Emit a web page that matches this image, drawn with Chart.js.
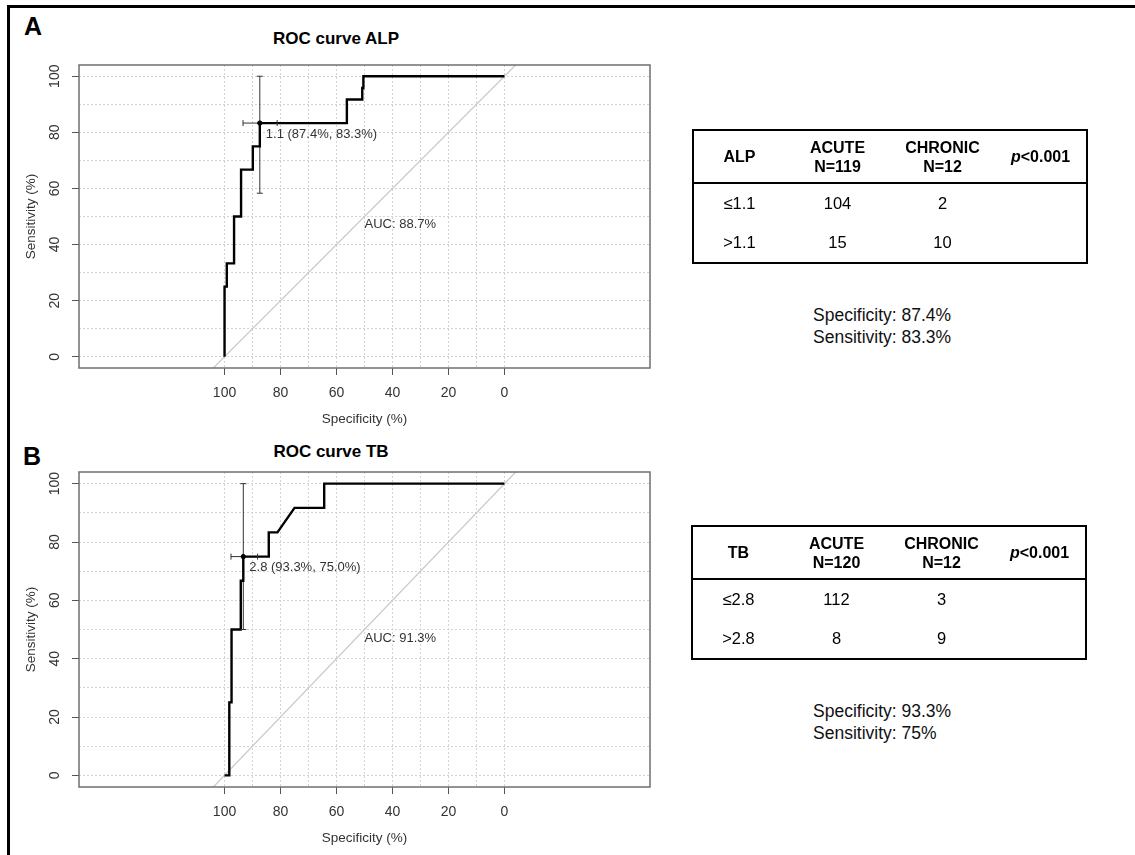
<!DOCTYPE html>
<html>
<head>
<meta charset="utf-8">
<title>ROC curves ALP / TB</title>
<script src="https://cdn.jsdelivr.net/npm/chart.js@4.4.1/dist/chart.umd.min.js"></script>
<style>
  body { margin: 0; background: #fff; font-family: "Liberation Sans", Arial, sans-serif; }
  #page { position: relative; width: 1135px; height: 855px; overflow: hidden; background: #fff; }
  #frame { position: absolute; left: 7px; top: 5px; width: 1200px; height: 900px;
           border-left: 3px solid #000; border-top: 3px solid #000; }
  canvas { position: absolute; left: 0; }
  .panel { position: absolute; font-weight: bold; font-size: 25px; color: #000; }
  .title { position: absolute; font-weight: bold; font-size: 17px; color: #000;
           transform: translateX(-50%); white-space: nowrap; }
  table.ct { position: absolute; border-collapse: collapse; border: 2px solid #000;
             font-size: 16.5px; color: #000; table-layout: fixed; }
  table.ct th { font-size: 16px; font-weight: bold; height: 51px; line-height: 19px;
                border-bottom: 2px solid #000; text-align: center; padding: 0; }
  table.ct td { text-align: center; height: 39px; padding: 0; }
  .stats { position: absolute; font-size: 17.5px; line-height: 22px; color: #111; }
</style>
</head>
<body>
<div id="page">
  <div id="frame"></div>
  <div class="panel" style="left:24px; top:12px;">A</div>
  <div class="title" style="left:336px; top:29px;">ROC curve ALP</div>
  <canvas id="rocA" width="700" height="440" style="top:0px;"></canvas>
  <div class="panel" style="left:23px; top:442px;">B</div>
  <div class="title" style="left:331px; top:442px;">ROC curve TB</div>
  <canvas id="rocB" width="700" height="435" style="top:420px;"></canvas>
</div>

<script>
// axis tick values (percent)
const specTicks = [100, 80, 60, 40, 20, 0];
const sensTicks = [0, 20, 40, 60, 80, 100];

// ROC curve ALP: specificity / sensitivity pairs along the step curve
const alpSpec = [100, 100, 99.2, 99.2, 96.6, 96.6, 94.1, 94.1, 89.9, 89.9, 87.4, 87.4, 56.3, 56.3, 50.8, 50.8, 50.4, 50.4, 0];
const alpSens = [0, 25, 25, 33.3, 33.3, 50, 50, 66.7, 66.7, 75, 75, 83.3, 83.3, 91.7, 91.7, 95.8, 95.8, 100, 100];
const alpThreshold = 1.1;
const alpBest = [87.4, 83.3];       // [specificity, sensitivity]
const alpCiSpec = [93.4, 81.2];     // horizontal CI bar at best sensitivity
const alpCiSens = [58.3, 100];      // vertical CI bar at best specificity
const alpAuc = 88.7;

// ROC curve TB
const tbSpec = [100, 98.3, 98.3, 97.5, 97.5, 94.2, 94.2, 93.3, 93.3, 84.2, 84.2, 81.1, 75, 64.4, 64.4, 0];
const tbSens = [0, 0, 25, 25, 50, 50, 66.7, 66.7, 75, 75, 83.3, 83.3, 91.7, 91.7, 100, 100];
const tbThreshold = 2.8;
const tbBest = [93.3, 75.0];
const tbCiSpec = [97.7, 88.2];
const tbCiSens = [50, 100];
const tbAuc = 91.3;

// contingency tables
const groups = ['ACUTE', 'CHRONIC'];
const alpN = [119, 12];
const alpRows = ['≤1.1', '>1.1'];
const alpCounts = [[104, 2], [15, 10]];
const tbN = [120, 12];
const tbRows = ['≤2.8', '>2.8'];
const tbCounts = [[112, 3], [8, 9]];
const pText = '<0.001';
const alpStats = ['Specificity: 87.4%', 'Sensitivity: 83.3%'];
const tbStats = ['Specificity: 93.3%', 'Sensitivity: 75%'];

const FONT = '"Liberation Sans", Arial, sans-serif';
const X_MIN = -52, X_MAX = 152, Y_MIN = -4, Y_MAX = 104;
const tenSteps = [100, 90, 80, 70, 60, 50, 40, 30, 20, 10, 0];

const pts = (xs, ys) => xs.map((v, i) => ({ x: v, y: ys[i] }));

const rocDecor = {
  id: 'rocDecor',
  afterDatasetsDraw(chart, args, o) {
    const { ctx, chartArea: a, scales: { x, y } } = chart;
    ctx.save();
    // CI caps
    ctx.strokeStyle = '#333';
    ctx.lineWidth = 1;
    const cap = 3;
    ctx.beginPath();
    o.ciSpec.forEach(s => {
      const px = x.getPixelForValue(s), py = y.getPixelForValue(o.best[1]);
      ctx.moveTo(px, py - cap); ctx.lineTo(px, py + cap);
    });
    o.ciSens.forEach(s => {
      const px = x.getPixelForValue(o.best[0]), py = y.getPixelForValue(s);
      ctx.moveTo(px - cap, py); ctx.lineTo(px + cap, py);
    });
    ctx.stroke();

    // plot box
    ctx.strokeStyle = '#6f6f6f';
    ctx.lineWidth = 1.5;
    ctx.strokeRect(a.left, a.top, a.right - a.left, a.bottom - a.top);

    // rotated y tick labels, as R draws them
    ctx.fillStyle = '#333';
    ctx.font = '14px ' + FONT;
    ctx.textAlign = 'center';
    ctx.textBaseline = 'middle';
    sensTicks.forEach(v => {
      ctx.save();
      ctx.translate(a.left - 24, y.getPixelForValue(v));
      ctx.rotate(-Math.PI / 2);
      ctx.fillText(String(v), 0, 0);
      ctx.restore();
    });

    // threshold label and AUC
    ctx.font = '13px ' + FONT;
    ctx.textAlign = 'left';
    const bx = x.getPixelForValue(o.best[0]), by = y.getPixelForValue(o.best[1]);
    ctx.fillText(o.threshold.toFixed(1) + ' (' + o.best[0].toFixed(1) + '%, ' + o.best[1].toFixed(1) + '%)', bx + 6, by + 11);
    ctx.fillText('AUC: ' + o.auc.toFixed(1) + '%', x.getPixelForValue(50), y.getPixelForValue(47));
    ctx.restore();
  }
};

function makeRoc(id, spec, sens, best, ciSpec, ciSens, threshold, auc, topPad, xAxisH, xTitlePad) {
  new Chart(document.getElementById(id), {
    type: 'scatter',
    data: {
      datasets: [
        { data: pts(spec, sens), showLine: true, borderColor: '#000', borderWidth: 2.4,
          pointRadius: 0, order: 1 },
        { data: [{ x: best[0], y: best[1] }], showLine: false, pointRadius: 2.2,
          backgroundColor: '#000', borderColor: '#000', order: 0 },
        { data: pts([best[0], best[0]], ciSens), showLine: true, borderColor: '#333',
          borderWidth: 1, pointRadius: 0, order: 2 },
        { data: pts(ciSpec, [best[1], best[1]]), showLine: true, borderColor: '#333',
          borderWidth: 1, pointRadius: 0, order: 2 },
        { data: pts([100 - Y_MIN, 100 - Y_MAX], [Y_MIN, Y_MAX]), showLine: true,
          borderColor: '#c9c9c9', borderWidth: 1.2, pointRadius: 0, order: 5 }
      ]
    },
    options: {
      responsive: false,
      animation: false,
      devicePixelRatio: 1,
      layout: { padding: { top: topPad, right: 50, left: 0, bottom: 0 } },
      plugins: {
        legend: { display: false },
        tooltip: { enabled: false },
        rocDecor: { best, ciSpec, ciSens, threshold, auc }
      },
      scales: {
        x: {
          type: 'linear', reverse: true, min: X_MIN, max: X_MAX,
          afterBuildTicks: s => { s.ticks = tenSteps.map(v => ({ value: v })); },
          afterFit: s => { s.height = xAxisH; },
          ticks: {
            autoSkip: false, maxRotation: 0, padding: 10, color: '#333',
            font: { family: FONT, size: 14 },
            callback: v => specTicks.includes(v) ? String(v) : ''
          },
          grid: {
            color: '#d3d3d3', lineWidth: 1, tickLength: 7, tickWidth: 1,
            tickColor: c => (c.tick && specTicks.includes(c.tick.value)) ? '#555' : 'rgba(0,0,0,0)'
          },
          border: { display: false, dash: [2, 2] },
          title: { display: true, text: 'Specificity (%)', color: '#333',
                   font: { family: FONT, size: 13.5 }, padding: { top: 0, bottom: xTitlePad } }
        },
        y: {
          type: 'linear', min: Y_MIN, max: Y_MAX,
          afterBuildTicks: s => { s.ticks = tenSteps.slice().reverse().map(v => ({ value: v })); },
          afterFit: s => { s.width = 79; },
          ticks: { display: false },
          grid: {
            color: '#d3d3d3', lineWidth: 1, tickLength: 7, tickWidth: 1,
            tickColor: c => (c.tick && sensTicks.includes(c.tick.value)) ? '#555' : 'rgba(0,0,0,0)'
          },
          border: { display: false, dash: [2, 2] },
          title: { display: true, text: 'Sensitivity (%)', color: '#333',
                   font: { family: FONT, size: 13.5 }, padding: { top: 23, bottom: 0 } }
        }
      }
    },
    plugins: [rocDecor]
  });
}

makeRoc('rocA', alpSpec, alpSens, alpBest, alpCiSpec, alpCiSens, alpThreshold, alpAuc, 65, 72, 13);
makeRoc('rocB', tbSpec, tbSens, tbBest, tbCiSpec, tbCiSens, tbThreshold, tbAuc, 52, 68, 9);

function makeTable(label, n, rows, counts, stats, left, top) {
  const page = document.getElementById('page');
  const t = document.createElement('table');
  t.className = 'ct';
  t.style.left = left + 'px';
  t.style.top = top + 'px';
  t.style.width = '394px';
  let html = '<colgroup><col style="width:92px"><col style="width:105px"><col style="width:105px"><col style="width:92px"></colgroup>';
  html += '<tr><th>' + label + '</th>';
  groups.forEach((g, i) => { html += '<th>' + g + '<br>N=' + n[i] + '</th>'; });
  html += '<th><i>p</i>' + pText.replace('<', '&lt;') + '</th></tr>';
  rows.forEach((r, i) => {
    html += '<tr><td>' + r + '</td><td>' + counts[i][0] + '</td><td>' + counts[i][1] + '</td><td></td></tr>';
  });
  t.innerHTML = html;
  page.appendChild(t);
  const s = document.createElement('div');
  s.className = 'stats';
  s.style.left = '813px';
  s.style.top = (top + 175) + 'px';
  s.innerHTML = stats.join('<br>');
  page.appendChild(s);
}

makeTable('ALP', alpN, alpRows, alpCounts, alpStats, 692, 129);
makeTable('TB', tbN, tbRows, tbCounts, tbStats, 691, 525);
</script>
</body>
</html>
